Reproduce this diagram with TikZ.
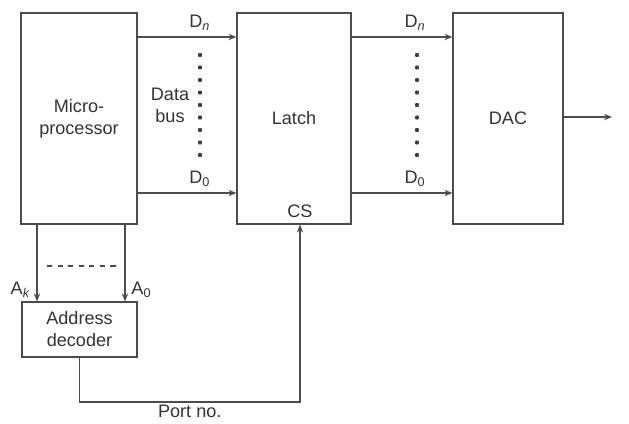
\documentclass[tikz,border=0pt]{standalone}
\usepackage{fontspec}
\setmainfont{Liberation Sans}
\usepackage{tikz}
\usetikzlibrary{arrows.meta}

\begin{document}
\begin{tikzpicture}[x=0.02cm,y=-0.02cm,>={Stealth[length=4.5pt,width=3.6pt]},
  line width=0.7pt,
  every node/.style={text=black!80,font=\fontsize{10.3}{12.5}\selectfont},
  block/.style={draw=black!70,inner sep=0pt,minimum height=4.22cm,align=center},
  bus/.style={->,draw=black!70}]
  \useasboundingbox (0,0) rectangle (629,423);
  % boxes
  \node[block,minimum width=2.32cm] (mpu) at (79,118.5) {Micro-\\processor};
  \node[block,minimum width=2.28cm] (latch) at (294,118.5) {Latch};
  \node[block,minimum width=2.2cm] (dac) at (508,118.5) {DAC};
  \node[block,minimum width=2.3cm,minimum height=1.1cm] (dec) at (79.5,329.5) {Address\\decoder};
  \node (cs) at (300,211) {CS};
  \node (databus) at (170,105) [align=center] {Data\\bus};
  % data bus
  \draw[bus] (mpu.east |- 0,37) -- (latch.west |- 0,37) node[pos=0.63,above] {D\textsubscript{\textit{n}}};
  \draw[bus] (mpu.east |- 0,193) -- (latch.west |- 0,193) node[pos=0.63,above] {D\textsubscript{0}};
  \draw[bus] (latch.east |- 0,37) -- (dac.west |- 0,37) node[pos=0.63,above] {D\textsubscript{\textit{n}}};
  \draw[bus] (latch.east |- 0,193) -- (dac.west |- 0,193) node[pos=0.63,above] {D\textsubscript{0}};
  \foreach \y in {0,...,8} {
    \fill[black!75] (200,55+12.5*\y) circle (1.25pt);
    \fill[black!75] (417,55+12.5*\y) circle (1.25pt);
  }
  % output
  \coordinate (out) at (612,117);
  \draw[bus] (dac.east |- out) -- (out);
  % address lines
  \draw[bus] (mpu.south -| 37,0) -- (dec.north -| 37,0) node[left,pos=0.85] {A\textsubscript{\textit{k}}};
  \draw[bus] (mpu.south -| 125,0) -- (dec.north -| 125,0) node[right,pos=0.85] {A\textsubscript{0}};
  \draw[black!70,dashed] (47,266) -- (116,266);
  % port select
  \coordinate (bend) at (300,402);
  \draw[bus] (dec.south) |- (bend) node[pos=0.75,below,inner sep=1.5pt] {Port no.} -- (latch.south -| bend);
\end{tikzpicture}
\end{document}
